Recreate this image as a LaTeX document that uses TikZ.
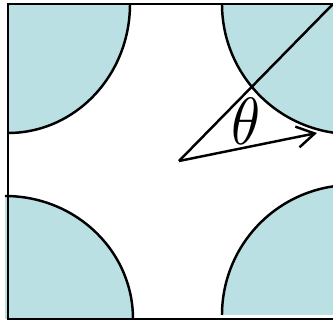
\documentclass[tikz,border=0pt]{standalone}
\usetikzlibrary{arrows.meta}
\definecolor{diskcol}{RGB}{186,224,227}
\begin{document}
\begin{tikzpicture}[x=0.03cm, y=-0.03cm, line width=2.1pt,
  >={Straight Barb[length=15pt,width=18pt]},
  disk/.style={fill=diskcol}]
  \useasboundingbox (0,0) rectangle (333,321);
  % quarter disks at the corners
  \fill[disk] (8,4) -- (130,4) arc[start angle=0, end angle=90, x radius=122, y radius=129] -- cycle;
  \fill[disk] (5,319) -- (133,319) arc[start angle=0, end angle=-90, x radius=128, y radius=123] -- cycle;
  \fill[disk] (222,4) arc[start angle=180, end angle=98.4, radius=130] -- (333,4) -- cycle;
  \fill[disk] (222,315) arc[start angle=180, end angle=261.6, radius=130] -- (333,315) -- cycle;
  \draw (130,4) arc[start angle=0, end angle=90, x radius=122, y radius=129];
  \draw (133,319) arc[start angle=0, end angle=-90, x radius=128, y radius=123];
  \draw (222,4) arc[start angle=180, end angle=98.4, radius=130];
  \draw (222,315) arc[start angle=180, end angle=261.6, radius=130];
  % cell edges
  \draw (333,4) -- (8,4) -- (8,319) -- (333,319);
  % angle
  \coordinate (O) at (179,161);
  \coordinate (C) at (333,4);
  \coordinate (P) at (317,133);
  \draw (O) -- (C);
  \draw[->] (O) -- (P);
  \node[xscale=5, yscale=5.7] (theta) at (246,121) {$\theta$};
\end{tikzpicture}
\end{document}
